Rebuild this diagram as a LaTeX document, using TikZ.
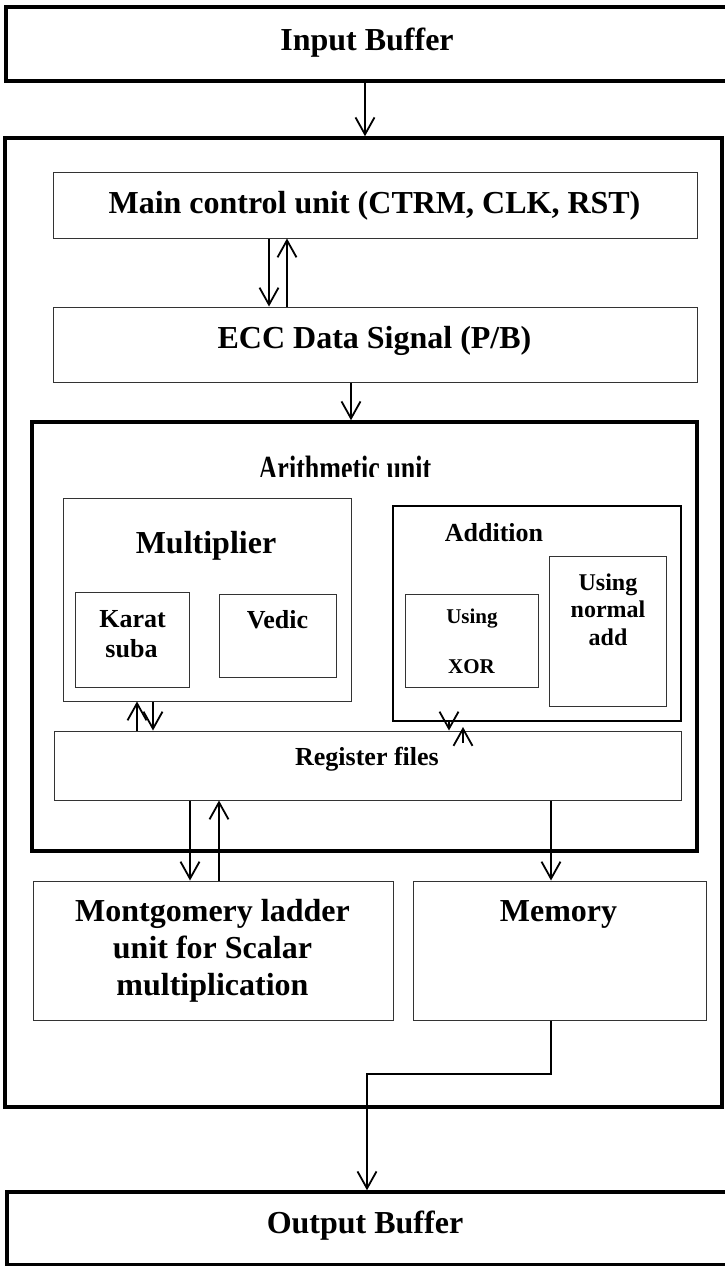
\documentclass[tikz,border=0pt]{standalone}
\usepackage{fontspec}
\usepackage{graphicx}
\setmainfont{Liberation Serif}
\usetikzlibrary{arrows.meta}
\begin{document}
\begin{tikzpicture}[x=1pt,y=-1pt,
  thinbox/.style={draw=black!80, line width=1pt, inner sep=0pt},
  thickbox/.style={draw=black, line width=3.5pt, inner sep=0pt},
  midbox/.style={draw=black, line width=2pt, inner sep=0pt},
  txt/.style={anchor=base, inner sep=0pt, font=\bfseries\fontsize{32}{37}\selectfont},
  txtm/.style={anchor=base, inner sep=0pt, font=\bfseries\fontsize{26}{30}\selectfont},
  txts/.style={anchor=base, inner sep=0pt, font=\bfseries\fontsize{24}{28}\selectfont},
  txtxs/.style={anchor=base, inner sep=0pt, font=\bfseries\fontsize{21}{25}\selectfont},
  arr/.style={line width=1.8pt, -{Straight Barb[length=17pt,width=19pt]}},
]
\useasboundingbox (0,0) rectangle (724,1266);

% boxes
\node[thickbox, minimum width=722pt, minimum height=74pt] (ib) at (367,44) {};
\node[thickbox, minimum width=717pt, minimum height=969pt] (outer) at (363.5,622.5) {};
\node[thinbox, minimum width=644pt, minimum height=66pt] (mcu) at (375,205) {};
\node[thinbox, minimum width=644pt, minimum height=75pt] (ecc) at (375,344.5) {};
\node[thickbox, minimum width=665pt, minimum height=429pt] (arith) at (364.5,636.5) {};
\node[thinbox, minimum width=288pt, minimum height=203pt] (mult) at (207,599.5) {};
\node[thinbox, minimum width=114pt, minimum height=95pt] (kara) at (132,639.5) {};
\node[thinbox, minimum width=117pt, minimum height=83pt] (vedic) at (277.5,635.5) {};
\node[midbox, minimum width=288pt, minimum height=215pt] (add) at (537,613.5) {};
\node[thinbox, minimum width=133pt, minimum height=93pt] (xor) at (471.5,640.5) {};
\node[thinbox, minimum width=117pt, minimum height=150pt] (nadd) at (607.5,631) {};
\node[thinbox, minimum width=627pt, minimum height=69pt] (reg) at (367.5,765.5) {};
\node[thinbox, minimum width=360pt, minimum height=139pt] (mont) at (213,950.5) {};
\node[thinbox, minimum width=293pt, minimum height=139pt] (mem) at (559.5,950.5) {};
\node[thickbox, minimum width=724pt, minimum height=73pt] (ob) at (369,1228.5) {};

% labels
\node[txt] (ibl) at (367,50) {Input Buffer};
\node[txt] (mcul) at (374.5,213) {Main control unit (CTRM, CLK, RST)};
\node[txt] (eccl) at (374.5,348) {ECC Data Signal (P/B)};
\begin{scope}
  \clip (240,440) rectangle (460,476);
  \node[txtm] (arl) at (345,479) {\scalebox{1}[1.3]{Arithmetic unit}};
\end{scope}
\node[txt] (multl) at (206,553) {Multiplier};
\node[txtm] (karl1) at (132.5,627) {Karat};
\node[txtm] (karl2) at (131.5,657) {suba};
\node[txtm] (vedl) at (277.5,628) {Vedic};
\node[txtm] (addl) at (494,541) {Addition};
\node[txtxs] (xorl1) at (472,623) {Using};
\node[txtxs] (xorl2) at (471.5,673) {XOR};
\node[txts] (naddl1) at (608,590) {Using};
\node[txts] (naddl2) at (608,617) {normal};
\node[txts] (naddl3) at (608,645) {add};
\node[txtm] (regl) at (367,765) {Register files};
\node[txt] (montl1) at (212.5,921) {Montgomery ladder};
\node[txt] (montl2) at (212.5,958) {unit for Scalar};
\node[txt] (montl3) at (212.5,995) {multiplication};
\node[txt] (meml) at (558.5,921) {Memory};
\node[txt] (obl) at (365,1233) {Output Buffer};

% connectors
\draw[arr] (ib.south -| 365,0) -- (outer.north -| 365,0);
\draw[arr] (mcu.south -| 269,0) -- (ecc.north -| 269,0);
\draw[arr] (ecc.north -| 287,0) -- (mcu.south -| 287,0);
\draw[arr] (ecc.south -| 351,0) -- (arith.north -| 351,0);
\draw[arr] (reg.north -| 137,0) -- (mult.south -| 137,0);
\draw[arr] (mult.south -| 153,0) -- (reg.north -| 153,0);
\draw[arr] (add.south -| 449,0) -- (reg.north -| 449,0);
\coordinate (ra1) at (463,743);
\coordinate (ra2) at (463,727);
\draw[arr] (ra1) -- (ra2);
\draw[arr] (reg.south -| 190,0) -- (mont.north -| 190,0);
\draw[arr] (mont.north -| 219,0) -- (reg.south -| 219,0);
\draw[arr] (reg.south -| 551,0) -- (mem.north -| 551,0);
\coordinate (b1) at (551,1074);
\coordinate (b2) at (367,1074);
\draw[arr] (mem.south -| 551,0) -- (b1) -- (b2) -- (ob.north -| 367,0);
\end{tikzpicture}
\end{document}
